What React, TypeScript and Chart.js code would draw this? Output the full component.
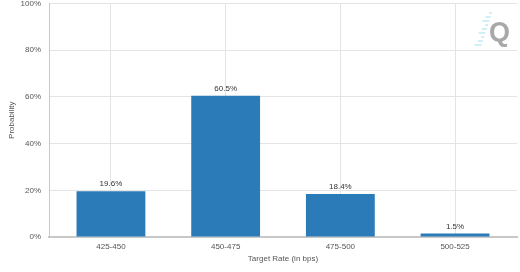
import React, { useEffect, useRef } from "react";
import { Chart, registerables } from "chart.js";

Chart.register(...registerables);

const categories = ["425-450", "450-475", "475-500", "500-525"];
const probabilities = [19.6, 60.5, 18.4, 1.5];
const yTicks = [0, 20, 40, 60, 80, 100];
const xTitle = "Target Rate (in bps)";
const yTitle = "Probability";

const FONT = "'Liberation Sans', Arial, sans-serif";

const valueLabels = {
  id: "valueLabels",
  afterDatasetsDraw(chart: any) {
    const ctx = chart.ctx;
    const meta = chart.getDatasetMeta(0);
    ctx.save();
    ctx.font = `8px ${FONT}`;
    ctx.fillStyle = "#333333";
    ctx.textAlign = "center";
    ctx.textBaseline = "bottom";
    meta.data.forEach((bar: any, i: number) => {
      ctx.fillText(probabilities[i].toFixed(1) + "%", bar.x, bar.y - 3);
    });
    ctx.restore();
  },
};

const logo = {
  id: "logo",
  afterDraw(chart: any) {
    const ctx = chart.ctx;
    ctx.save();
    ctx.strokeStyle = "rgba(120,210,235,0.7)";
    ctx.lineWidth = 1;
    for (let k = 0; k < 9; k++) {
      const y = 13 + k * 4;
      const x = 492 - k * 1.3;
      const len = 3 + (k % 3) * 2;
      ctx.beginPath();
      ctx.moveTo(x - len, y);
      ctx.lineTo(x, y);
      ctx.stroke();
    }
    ctx.font = `bold 27px ${FONT}`;
    ctx.fillStyle = "#a8a8a8";
    ctx.textAlign = "left";
    ctx.textBaseline = "alphabetic";
    ctx.fillText("Q", 489, 41);
    ctx.restore();
  },
};

export default function App() {
  const ref = useRef<HTMLCanvasElement>(null);
  useEffect(() => {
    document.body.style.margin = "0";
    const chart = new Chart(ref.current!, {
      type: "bar",
      data: {
        labels: categories,
        datasets: [
          {
            data: probabilities.map((v, i) => ({ x: i, y: v })),
            backgroundColor: "#2a7bb8",
            borderWidth: 0,
            categoryPercentage: 1,
            barPercentage: 0.6,
          },
        ],
      },
      options: {
        animation: false,
        responsive: false,
        maintainAspectRatio: false,
        layout: { padding: { top: 3.5, right: 3, left: 0, bottom: 0 } },
        plugins: { legend: { display: false }, tooltip: { enabled: false } },
        scales: {
          x: {
            type: "linear",
            min: -0.54,
            max: 3.54,
            offset: false,
            afterBuildTicks: (s: any) => {
              s.ticks = categories.map((_, i) => ({ value: i }));
            },
            grid: { offset: false, color: "#e4e4e4", drawTicks: false },
            border: { color: "#c8c8c8", width: 2 },
            ticks: {
              color: "#555",
              font: { family: FONT, size: 8 },
              padding: 5,
              callback: (v: any) => categories[Math.round(v)] ?? "",
            },
            title: {
              display: true,
              text: xTitle,
              color: "#555",
              font: { family: FONT, size: 8 },
              padding: { top: 4, bottom: 8 },
            },
            afterFit: (s: any) => {
              s.height = 35;
              s.paddingLeft = 0;
              s.paddingRight = 0;
            },
          },
          y: {
            min: 0,
            max: 100,
            afterBuildTicks: (s: any) => {
              s.ticks = yTicks.map((v) => ({ value: v }));
            },
            grid: { color: "#e4e4e4", drawTicks: false },
            border: { color: "#c8c8c8", width: 1 },
            ticks: {
              color: "#555",
              font: { family: FONT, size: 8 },
              padding: 8,
              callback: (v: any) => v + "%",
            },
            title: {
              display: true,
              text: yTitle,
              color: "#555",
              font: { family: FONT, size: 8 },
              padding: { top: 7, bottom: 0 },
            },
            afterFit: (s: any) => {
              s.width = 49;
              s.paddingTop = 0;
              s.paddingBottom = 0;
            },
          },
        },
      },
      plugins: [valueLabels, logo],
    });
    return () => chart.destroy();
  }, []);
  return (
    <div style={{ width: 520, height: 272, background: "#fff" }}>
      <canvas ref={ref} width={520} height={272} style={{ display: "block" }} />
    </div>
  );
}
